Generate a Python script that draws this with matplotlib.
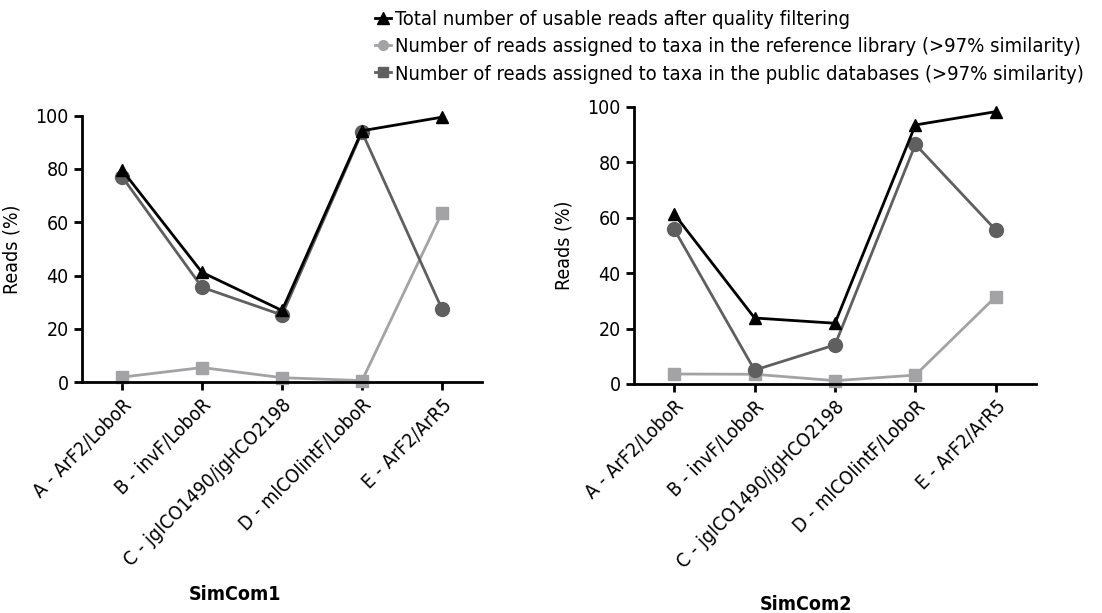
import matplotlib
matplotlib.use('Agg')
import matplotlib.pyplot as plt
from matplotlib.lines import Line2D

plt.rcParams['font.family'] = ['DejaVu Sans']
plt.rcParams['font.stretch'] = 'condensed'

primers = ['A - ArF2/LoboR', 'B - invF/LoboR', 'C - jgICO1490/jgHCO2198',
           'D - mlCOIintF/LoboR', 'E - ArF2/ArR5']

# SimCom1
total1 = [79.6, 41.2, 26.9, 94.3, 99.4]
public1 = [77.1, 35.6, 25.2, 93.8, 27.4]
ref1 = [1.9, 5.5, 1.7, 0.6, 63.6]

# SimCom2
total2 = [61.3, 23.8, 21.9, 93.4, 98.2]
public2 = [55.8, 5.0, 14.1, 86.4, 55.5]
ref2 = [3.6, 3.5, 1.2, 3.2, 31.5]

labels = ['Total number of usable reads after quality filtering',
          'Number of reads assigned to taxa in the reference library (>97% similarity)',
          'Number of reads assigned to taxa in the public databases (>97% similarity)']

c_total = 'black'
c_ref = '#a3a3a5'
c_pub = '#5f5f5f'

fig = plt.figure(figsize=(11.02, 6.13), dpi=100)
ax1 = fig.add_axes([0.0744, 0.3765, 0.363, 0.435])
ax2 = fig.add_axes([0.5753, 0.3736, 0.3648, 0.4524])


def draw(ax, total, public, ref, title, title_y):
    x = range(len(primers))
    ax.plot(x, ref, color=c_ref, lw=2, marker='s', ms=9, zorder=2)
    ax.plot(x, public, color=c_pub, lw=2, marker='o', ms=10, zorder=3)
    ax.plot(x, total, color=c_total, lw=2, marker='^', ms=9, zorder=4)
    ax.set_xlim(-0.5, 4.5)
    ax.set_ylim(0, 100)
    ax.set_yticks([0, 20, 40, 60, 80, 100])
    ax.set_xticks(list(x))
    ax.set_xticklabels(primers, rotation=45, ha='right', rotation_mode='anchor')
    ax.spines['top'].set_visible(False)
    ax.spines['right'].set_visible(False)
    for s in ('left', 'bottom'):
        ax.spines[s].set_linewidth(2)
    ax.spines['left'].set_zorder(5)
    ax.tick_params(axis='both', width=2, length=6, labelsize=14, color='black')
    ax.set_ylabel('Reads (%)', fontsize=14, labelpad=10)
    for m in ax.lines:
        m.set_clip_on(False)
    fig.text(title[1], title_y, title[0], fontsize=14, fontweight='bold',
             ha='center', va='center')


draw(ax1, total1, public1, ref1, ('SimCom1', 0.213), 1 - 595 / 613)
draw(ax2, total2, public2, ref2, ('SimCom2', 0.731), 1 - 605 / 613)

handles = [Line2D([], [], color=c_total, lw=2, marker='^', ms=8),
           Line2D([], [], color=c_ref, lw=2, marker='o', ms=7),
           Line2D([], [], color=c_pub, lw=2, marker='s', ms=7)]
fig.legend(handles, labels, loc='upper left', bbox_to_anchor=(0.329, 1.004),
           frameon=False, fontsize=14.5, handlelength=0.8, handletextpad=0.2,
           labelspacing=0.42, borderaxespad=0.2)

fig.savefig('out.png', dpi=100)
